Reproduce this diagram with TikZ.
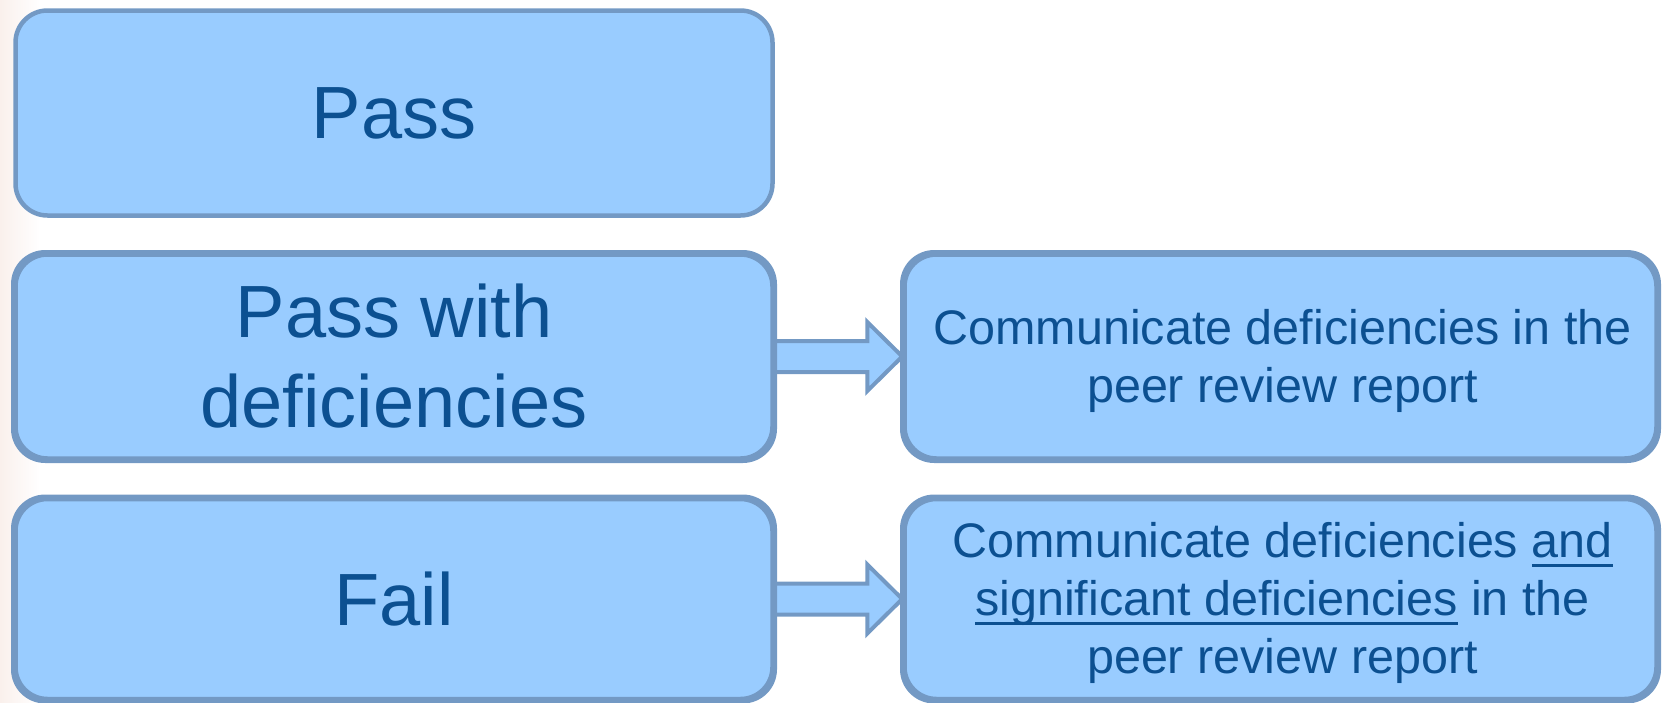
\documentclass[tikz,border=0pt]{standalone}
\usepackage{fontspec}
\setmainfont{Liberation Sans}
\usetikzlibrary{calc}
\definecolor{boxfill}{RGB}{153,204,255}
\definecolor{boxline}{RGB}{115,153,196}
\definecolor{txt}{RGB}{12,80,145}
\definecolor{bgpink}{RGB}{250,240,236}
\newsavebox\ulbox
\newcommand{\myul}[1]{\sbox\ulbox{#1}\rlap{\rule[-9pt]{\wd\ulbox}{3pt}}\usebox\ulbox}
\tikzset{
  bigbox/.style={draw=boxline, line width=4.5pt, fill=boxfill, rounded corners=32pt,
    minimum width=757pt, minimum height=205pt, inner sep=0pt, text=txt,
    align=center, font=\fontsize{74}{90}\selectfont},
  infobox/.style={bigbox, minimum width=752pt},
  infotext/.style={text=txt, align=center, inner sep=0pt, font=\fontsize{48.5}{58}\selectfont},
  boxborder/.style={draw=boxline, line width=4.5pt, rounded corners=32pt},
  blockarrow/.style={draw=boxline, line width=4pt, fill=boxfill, line join=miter}
}
\begin{document}
\begin{tikzpicture}[x=1pt,y=-1pt]
\useasboundingbox (0,0) rectangle (1667,702);
\shade[left color=bgpink, right color=white] (0,0) rectangle (40,702);
% left column
\node[bigbox] (pass) at (394,113) {Pass};
\node[bigbox, minimum height=204pt] (pwd) at (394,356.5) {Pass with\\deficiencies};
\node[bigbox, minimum height=200pt] (fail) at (394,599) {Fail};
% right column
\node[infobox, minimum height=204pt] (r2) at (1280.5,356.5) {};
\node[infobox, minimum height=200pt] (r3) at (1280.5,599) {};
% arrows
\coordinate (h2) at ($(r2.west)+(-35pt,0pt)$);
\coordinate (h3) at ($(r3.west)+(-35pt,0pt)$);
\draw[blockarrow] ([yshift=15.5pt]pwd.east) -- ([yshift=15.5pt]h2) -- ([yshift=34.5pt]h2) -- (r2.west)
  -- ([yshift=-34.5pt]h2) -- ([yshift=-15.5pt]h2) -- ([yshift=-15.5pt]pwd.east) -- cycle;
\draw[blockarrow] ([yshift=15.5pt]fail.east) -- ([yshift=15.5pt]h3) -- ([yshift=34.5pt]h3) -- (r3.west)
  -- ([yshift=-34.5pt]h3) -- ([yshift=-15.5pt]h3) -- ([yshift=-15.5pt]fail.east) -- cycle;
% redraw box borders over arrow ends
\draw[boxborder] (pwd.north west) rectangle (pwd.south east);
\draw[boxborder] (fail.north west) rectangle (fail.south east);
\draw[boxborder] (r2.north west) rectangle (r2.south east);
\draw[boxborder] (r3.north west) rectangle (r3.south east);
% texts of the right boxes
\node[infotext] (r2t) at ([xshift=2pt,yshift=-4pt]r2.center) {Communicate deficiencies in the\\peer review report};
\node[infotext] (r3t) at ([xshift=2pt,yshift=-4pt]r3.center) {Communicate deficiencies \myul{and}\\\myul{significant deficiencies} in the\\peer review report};
\end{tikzpicture}
\end{document}
